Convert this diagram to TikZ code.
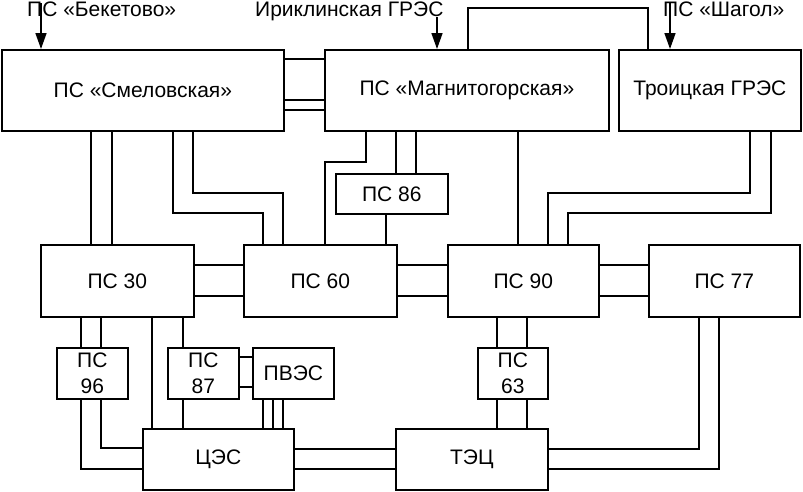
\documentclass[tikz,border=0pt]{standalone}
\usepackage{fontspec}
\setmainfont{Liberation Sans}
\usetikzlibrary{arrows.meta}
\begin{document}
\begin{tikzpicture}[x=1pt,y=-1pt,
  box/.style={draw,line width=1.7pt,inner sep=0pt,anchor=north west,align=center,
    font=\fontsize{21}{26}\selectfont},
  ln/.style={line width=1.5pt},
  arr/.style={line width=1.6pt,-{Triangle[length=16pt,width=11pt]}},
  lbl/.style={anchor=base west,inner sep=0pt,font=\fontsize{21}{24}\selectfont}]
\useasboundingbox[fill=white] (0,0) rectangle (803,491);
% boxes
\node[box,minimum width=282pt,minimum height=81pt] (smel) at (1,49) {ПС «Смеловская»};
\node[box,minimum width=284pt,minimum height=81pt] (magn) at (324,49) {ПС «Магнитогорская»};
\node[box,minimum width=182pt,minimum height=81pt] (troi) at (618,49) {Троицкая ГРЭС};
\node[box,minimum width=112pt,minimum height=40pt] (ps86) at (335,173) {ПС 86};
\node[box,minimum width=153pt,minimum height=72pt] (ps30) at (40,244) {ПС 30};
\node[box,minimum width=153pt,minimum height=72pt] (ps60) at (243,244) {ПС 60};
\node[box,minimum width=151pt,minimum height=72pt] (ps90) at (447,244) {ПС 90};
\node[box,minimum width=151pt,minimum height=72pt] (ps77) at (648,244) {ПС 77};
\node[box,minimum width=71pt,minimum height=51pt] (ps96) at (56,347) {ПС\\96};
\node[box,minimum width=71pt,minimum height=51pt] (ps87) at (167,347) {ПС\\87};
\node[box,minimum width=81pt,minimum height=51pt] (pves) at (252,347) {ПВЭС};
\node[box,minimum width=70pt,minimum height=51pt] (ps63) at (477,347) {ПС\\63};
\node[box,minimum width=151pt,minimum height=61pt] (ces) at (142,428) {ЦЭС};
\node[box,minimum width=152pt,minimum height=61pt] (tec) at (395,428) {ТЭЦ};
% top labels and arrows
\node[lbl] (lbk) at (27,16) {ПС «Бекетово»};
\node[lbl] (lir) at (255,16) {Ириклинская ГРЭС};
\node[lbl] (lsh) at (663,16) {ПС «Шагол»};
\coordinate (bk) at (41,3);
\coordinate (ir) at (437,17);
\coordinate (sh) at (670,3);
\draw[arr] (bk) -- (smel.north -| bk);
\draw[arr] (ir) -- (magn.north -| ir);
\draw[arr] (sh) -- (troi.north -| sh);
% loop magn - troi
\draw[ln] (magn.north -| 468,0) -- (468,8) -- (648,8) -- (troi.north -| 648,0);
% smel - magn
\foreach \y in {59,100,110} \draw[ln] (smel.east |- 0,\y) -- (magn.west |- 0,\y);
% smel - ps30
\foreach \x in {91,112} \draw[ln] (smel.south -| \x,0) -- (ps30.north -| \x,0);
% smel - ps60
\draw[ln] (smel.south -| 173,0) -- (173,213) -- (263,213) -- (ps60.north -| 263,0);
\draw[ln] (smel.south -| 193,0) -- (193,193) -- (283,193) -- (ps60.north -| 283,0);
% magn - ps60
\draw[ln] (magn.south -| 366,0) -- (366,162) -- (325,162) -- (ps60.north -| 325,0);
% magn - ps86
\foreach \x in {396,416} \draw[ln] (magn.south -| \x,0) -- (ps86.north -| \x,0);
% ps86 - ps60
\draw[ln] (ps86.south -| 386,0) -- (ps60.north -| 386,0);
% magn - ps90
\draw[ln] (magn.south -| 518,0) -- (ps90.north -| 518,0);
% troi - ps90
\draw[ln] (troi.south -| 750,0) -- (750,193) -- (548,193) -- (ps90.north -| 548,0);
\draw[ln] (troi.south -| 771,0) -- (771,213) -- (568,213) -- (ps90.north -| 568,0);
% horizontal pairs
\foreach \y in {265,296} {
  \draw[ln] (ps30.east |- 0,\y) -- (ps60.west |- 0,\y);
  \draw[ln] (ps60.east |- 0,\y) -- (ps90.west |- 0,\y);
  \draw[ln] (ps90.east |- 0,\y) -- (ps77.west |- 0,\y);
}
% ps30 - ps96
\foreach \x in {81,101} \draw[ln] (ps30.south -| \x,0) -- (ps96.north -| \x,0);
% ps96 - ces
\draw[ln] (ps96.south -| 81,0) -- (81,469) -- (ces.west |- 0,469);
\draw[ln] (ps96.south -| 101,0) -- (101,448) -- (ces.west |- 0,448);
% ps30 - ces
\draw[ln] (ps30.south -| 152,0) -- (ces.north -| 152,0);
% ps30 - ps87 - ces
\draw[ln] (ps30.south -| 183,0) -- (ps87.north -| 183,0);
\draw[ln] (ps87.south -| 183,0) -- (ces.north -| 183,0);
% ps87 - pves
\foreach \y in {357,387} \draw[ln] (ps87.east |- 0,\y) -- (pves.west |- 0,\y);
% pves - ces
\foreach \x in {263,273,283} \draw[ln] (pves.south -| \x,0) -- (ces.north -| \x,0);
% ces - tec
\foreach \y in {449,469} \draw[ln] (ces.east |- 0,\y) -- (tec.west |- 0,\y);
% ps90 - ps63 - tec
\foreach \x in {497,527} {
  \draw[ln] (ps90.south -| \x,0) -- (ps63.north -| \x,0);
  \draw[ln] (ps63.south -| \x,0) -- (tec.north -| \x,0);
}
% ps77 - tec
\draw[ln] (ps77.south -| 699,0) -- (699,449) -- (tec.east |- 0,449);
\draw[ln] (ps77.south -| 719,0) -- (719,469) -- (tec.east |- 0,469);
\end{tikzpicture}
\end{document}
